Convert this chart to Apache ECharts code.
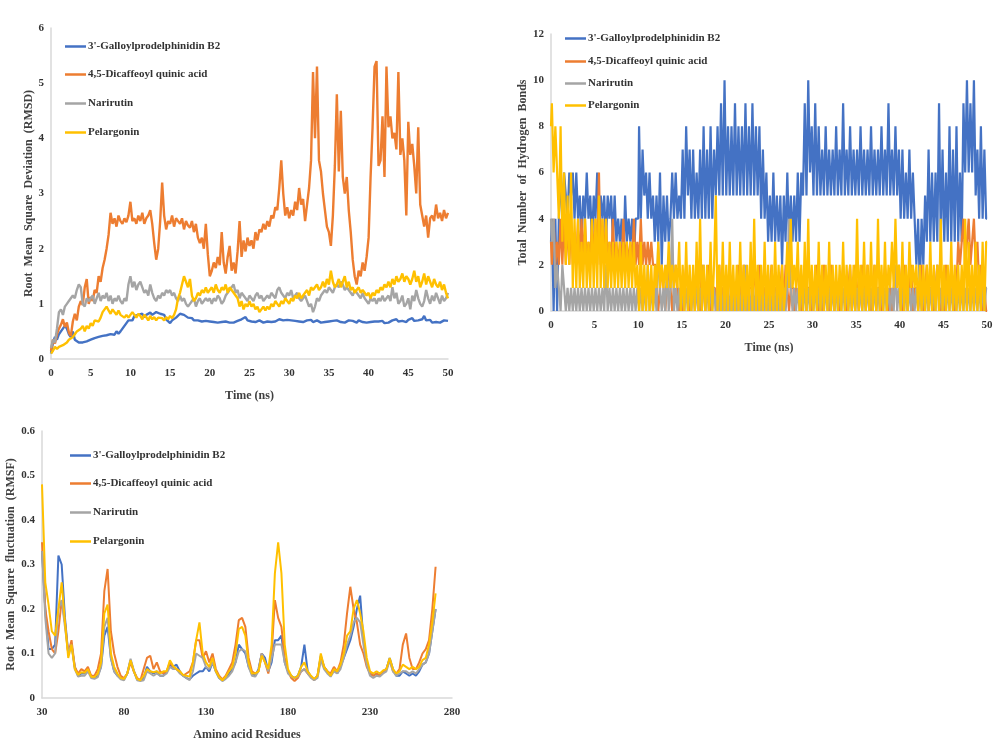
<!DOCTYPE html>
<html><head><meta charset="utf-8">
<script src="https://cdn.jsdelivr.net/npm/echarts@6/dist/echarts.min.js"></script>
<style>html,body{margin:0;padding:0;background:#fff}#c{width:1000px;height:750px}</style>
</head><body><div id="c"></div>
<script>
const seriesNames = ["3'-Galloylprodelphinidin B2", "4,5-Dicaffeoyl quinic acid", "Narirutin", "Pelargonin"];
const colors = ['#4472C4', '#ED7D31', '#A5A5A5', '#FFC000'];

// ---- RMSD (ns, step 0.25) ----
const rmsdStep = 0.25;
const rmsdGalloyl = [0.1,
0.3,0.4,0.35,0.45, 0.5,0.55,0.6,0.55, 0.45,0.4,0.5,0.35, 0.32,0.3,0.28,0.3, 0.27,0.32,0.3,0.35,
0.33,0.38,0.36,0.4, 0.38,0.42,0.45,0.43, 0.4,0.45,0.48,0.44, 0.5,0.46,0.5,0.55, 0.6,0.65,0.7,0.72,
0.7,0.78,0.75,0.8, 0.77,0.82,0.76,0.8, 0.78,0.84,0.8,0.83, 0.85,0.86,0.82,0.85, 0.8,0.72,0.7,0.65,
0.7,0.72,0.75,0.78, 0.82,0.85,0.8,0.78, 0.75,0.72,0.74,0.7,
0.69,0.7,0.67,0.68, 0.66,0.69,0.67,0.68, 0.66,0.67,0.69,0.66, 0.68,0.67,0.65,0.68, 0.67,0.66,0.68,0.66,
0.67,0.69,0.68,0.72, 0.7,0.76,0.7,0.69, 0.68,0.7,0.67,0.69, 0.7,0.68,0.66,0.69, 0.68,0.7,0.67,0.69,
0.68,0.7,0.72,0.69, 0.7,0.68,0.71,0.69, 0.7,0.68,0.69,0.71, 0.68,0.7,0.67,0.69, 0.7,0.68,0.71,0.67,
0.69,0.7,0.68,0.66, 0.69,0.67,0.7,0.68, 0.66,0.69,0.67,0.7, 0.68,0.67,0.69,0.66, 0.68,0.7,0.67,0.69,
0.68,0.66,0.7,0.68, 0.67,0.69,0.66,0.68, 0.67,0.69,0.68,0.66, 0.68,0.67,0.69,0.65, 0.62,0.66,0.68,0.7,
0.67,0.72,0.68,0.66, 0.69,0.7,0.67,0.71, 0.68,0.74,0.69,0.67, 0.7,0.68,0.72,0.78, 0.7,0.68,0.71,0.66,
0.69,0.67,0.7,0.66, 0.68,0.7,0.67,0.69];
const rmsdDicaffeoyl = [0.15,
0.35,0.28,0.45,0.55, 0.62,0.72,0.58,0.66, 0.48,0.42,0.68,0.82, 0.7,0.95,1.05,0.98, 1.3,1.45,1.0,1.12,
1.05,1.25,1.2,1.5, 1.4,1.65,1.8,2.0, 2.25,2.65,2.45,2.55, 2.4,2.6,2.5,2.45, 2.55,2.48,2.6,2.85,
2.5,2.55,2.45,2.6, 2.5,2.65,2.45,2.55, 2.6,2.7,2.45,2.1, 1.8,2.0,2.5,3.2, 2.6,2.35,2.5,2.45,
2.6,2.4,2.55,2.5, 2.45,2.55,2.35,2.5, 2.42,2.38,2.5,2.3, 2.45,2.2,2.1,2.2, 2.0,2.45,1.9,1.5,
1.6,1.75,1.65,1.85, 1.7,2.3,1.75,1.55, 1.85,2.05,1.6,1.75, 1.55,1.95,2.5,1.85, 2.15,1.95,2.2,2.05,
2.15,2.0,2.3,2.15, 2.35,2.3,2.45,2.35, 2.5,2.4,2.6,2.55, 2.75,2.7,3.1,3.6, 3.0,2.6,2.75,2.55,
2.7,2.6,2.85,2.7, 3.1,2.8,2.9,2.5, 2.8,3.1,3.6,5.2, 4.0,5.3,3.6,3.4, 3.0,2.7,2.4,2.3,
2.05,2.6,3.5,4.8, 3.4,4.5,3.3,3.0, 3.3,2.7,2.3,1.8, 1.5,1.35,1.6,1.5, 1.75,1.6,1.85,2.2,
3.3,4.2,5.3,5.4, 3.5,3.6,4.4,3.3, 5.3,4.2,4.4,4.0, 4.1,3.8,5.2,3.7, 4.0,3.6,2.6,4.3,
3.7,3.9,3.5,3.0, 4.2,2.8,2.6,2.4, 2.6,2.2,2.55,2.6, 2.5,2.8,2.55,2.65, 2.5,2.7,2.55,2.65];
const rmsdNarirutin = [0.2,
0.35,0.3,0.55,0.85, 0.9,0.8,0.95,1.0, 1.05,1.1,1.15,1.1, 1.25,1.35,1.3,1.0, 0.95,1.1,1.05,1.1,
1.15,1.0,1.1,1.2, 1.05,1.15,1.1,1.2, 1.05,1.15,1.0,1.1, 1.05,1.15,1.05,1.0, 1.1,1.05,1.35,1.5,
1.3,1.4,1.25,1.35, 1.4,1.3,1.2,1.25, 1.15,1.35,1.2,1.1, 1.05,1.15,1.1,1.2, 1.15,1.25,1.2,1.25,
1.15,1.2,1.1,1.05, 1.15,1.05,1.1,1.0, 0.95,1.0,1.05,1.1, 0.95,1.05,1.1,1.0, 1.05,1.1,1.05,1.1,
1.0,1.1,1.05,1.15, 1.1,1.0,1.05,1.15, 1.2,1.25,1.3,1.35, 1.2,1.25,1.1,1.2, 1.15,1.1,1.05,1.15,
1.1,1.05,1.15,1.2, 1.1,1.15,1.05,1.1, 1.15,1.1,1.2,1.15, 1.1,1.25,1.3,1.2, 1.15,1.1,1.2,1.15,
1.25,1.1,1.15,1.2, 1.1,1.05,1.1,1.15, 1.05,0.95,1.0,0.85, 0.95,1.1,1.05,1.15, 1.2,1.25,1.2,1.3,
1.25,1.2,1.3,1.35, 1.3,1.4,1.35,1.25, 1.3,1.25,1.2,1.15, 1.25,1.2,1.15,1.1, 1.2,1.1,1.05,1.0,
1.1,1.05,1.1,1.0, 1.1,1.05,1.15,1.05, 1.1,1.15,1.05,1.3, 1.1,1.2,1.0,1.05, 1.15,0.95,1.0,1.1,
0.9,1.15,1.05,1.25, 1.1,1.0,0.95,1.05, 1.25,1.1,1.0,1.15, 1.05,1.2,1.1,1.0, 1.15,1.05,1.1,1.2];
const rmsdPelargonin = [0.1,
0.15,0.22,0.18,0.22, 0.2,0.25,0.28,0.3, 0.35,0.32,0.4,0.45, 0.5,0.48,0.55,0.6, 0.5,0.6,0.55,0.65,
0.6,0.7,0.72,0.68, 0.75,0.85,0.9,0.95, 0.88,0.82,0.9,0.85, 0.8,0.88,0.8,0.78, 0.75,0.8,0.75,0.78,
0.85,0.8,0.75,0.82, 0.78,0.72,0.8,0.76, 0.7,0.78,0.72,0.76, 0.7,0.75,0.72,0.74, 0.7,0.76,0.72,0.78,
0.74,0.8,0.9,1.1, 1.2,1.35,1.5,1.4, 1.3,1.45,1.15,1.05, 1.1,1.2,1.15,1.25, 1.2,1.3,1.2,1.25,
1.3,1.2,1.35,1.25, 1.2,1.3,1.25,1.35, 1.2,1.3,1.25,1.2, 1.15,1.1,0.95,1.05, 0.9,1.0,0.95,1.05,
0.95,1.0,0.9,0.95, 0.85,0.9,0.95,0.88, 0.95,0.9,1.0,0.95, 1.05,1.0,0.95,1.05, 1.0,1.1,1.05,1.0,
1.1,1.05,1.15,1.1, 1.2,1.1,1.15,1.2, 1.25,1.15,1.3,1.25, 1.3,1.35,1.25,1.3, 1.4,1.3,1.45,1.35,
1.6,1.4,1.3,1.35, 1.45,1.3,1.4,1.5, 1.3,1.4,1.25,1.3, 1.2,1.25,1.3,1.2, 1.25,1.2,1.15,1.2,
1.1,1.2,1.15,1.25, 1.2,1.3,1.25,1.35, 1.3,1.4,1.3,1.45, 1.35,1.5,1.4,1.45, 1.55,1.4,1.5,1.45,
1.35,1.45,1.6,1.4, 1.5,1.3,1.4,1.55, 1.35,1.5,1.4,1.3, 1.45,1.35,1.3,1.4, 1.25,1.35,1.2,1.1];

// ---- Hydrogen bonds (ns, step 0.2) ----
const hbStep = 0.2;
const hbGalloyl = [
3,4,0,4,0, 4,6,4,6,5, 4,6,5,6,4, 6,4,5,3,5, 4,6,4,5,3, 5,4,6,3,5, 4,5,3,5,4, 5,3,5,3,4, 3,4,2,5,3, 4,3,4,2,4,
4,8,4,7,5, 6,4,6,4,5, 3,5,3,6,2, 5,3,5,3,4, 6,4,6,4,5, 4,7,4,8,5, 7,4,7,4,6, 4,7,4,8,4, 7,4,8,4,7, 5,8,5,9,5,
10,5,8,5,8, 5,9,5,8,5, 8,5,9,5,8, 5,9,5,8,5, 8,4,7,4,6, 3,5,3,6,3, 5,3,5,2,5, 3,6,3,5,3, 5,3,6,3,6, 5,9,5,10,6,
8,5,9,5,8, 5,7,5,8,5, 7,5,7,5,8, 5,7,5,9,5, 7,5,8,5,7, 5,7,5,8,5, 7,5,7,5,8, 5,7,5,7,5, 8,5,7,5,9, 5,7,5,8,5,
7,4,7,4,6, 4,7,4,6,4, 2,4,1,4,2, 5,3,7,3,6, 3,6,3,9,3, 7,3,6,3,8, 3,7,3,8,3, 6,3,9,6,10, 6,9,6,10,5, 7,4,8,4,7,
4];
const hbDicaffeoyl = [
3,2,4,2,3, 2,4,2,4,2, 4,2,4,2,3, 2,4,2,4,2, 4,2,3,2,4, 2,4,2,6,2, 4,2,4,2,3, 2,4,2,3,2, 3,2,4,2,3, 2,3,2,4,2,
3,2,4,2,3, 2,3,2,3,2, 2,1,0,1,2, 1,0,1,2,1, 0,1,2,1,0, 1,0,1,2,1, 0,1,1,0,2, 1,0,2,1,0, 1,2,0,1,1, 0,1,2,0,1,
1,0,1,2,0, 1,1,0,2,1, 0,2,1,0,1, 1,0,2,1,0, 2,1,0,1,1, 0,1,2,0,1, 1,0,1,2,0, 2,1,0,1,1, 0,1,2,1,0, 1,2,0,1,1,
0,1,1,2,0, 1,0,2,1,1, 0,2,1,0,1, 1,0,1,2,1, 0,1,2,0,1, 2,1,0,1,2, 1,0,2,1,0, 1,2,0,1,1, 0,1,2,1,0, 1,0,1,2,1,
2,1,0,2,1, 0,1,2,0,1, 1,0,1,2,0, 1,2,0,1,1, 0,1,2,1,0, 1,0,2,1,1, 2,1,0,1,3, 2,3,4,2,3, 4,2,3,4,2, 3,1,2,0,1,
0];
const hbNarirutin = [
4,3,4,1,2, 1,0,2,1,0, 1,0,1,0,1, 0,1,0,1,0, 1,0,1,0,1, 0,1,0,1,0, 1,0,2,0,1, 0,1,0,1,0, 1,0,1,0,1, 0,1,0,1,0,
1,0,1,0,1, 0,2,0,1,0, 1,0,3,1,0, 1,0,2,0,1, 4,0,1,0,1, 0,1,0,1,0, 1,0,1,0,1, 0,1,0,2,0, 1,0,1,0,1, 0,1,0,1,0,
1,0,1,0,1, 0,1,0,1,0, 1,0,2,0,1, 0,1,0,1,0, 1,0,1,0,1, 0,1,0,1,0, 1,0,1,0,1, 0,1,4,1,0, 1,0,1,0,1, 0,1,0,1,0,
1,0,1,0,1, 0,1,0,1,0, 1,0,1,0,1, 0,1,0,1,0, 1,0,1,0,1, 0,1,0,1,0, 1,0,1,0,1, 0,1,0,1,0, 1,0,1,0,1, 0,1,0,2,0,
1,0,1,0,1, 0,1,0,1,0, 1,0,1,0,1, 0,1,0,1,0, 1,0,2,0,1, 0,1,0,1,0, 1,0,1,0,1, 0,1,0,1,0, 1,0,1,0,1, 0,1,0,1,0,
1];
const hbPelargonin = [
8,9,6,8,6, 4,8,3,6,2, 5,2,6,1,4, 1,4,1,3,1, 4,1,3,1,4, 1,4,1,5,1, 4,1,4,1,3, 1,3,1,3,1, 3,1,3,1,3, 1,3,1,3,1,
2,0,3,0,2, 0,2,0,2,0, 2,1,3,1,2, 1,2,1,3,1, 2,1,2,1,3, 0,2,0,3,0, 2,0,2,0,3, 0,4,0,2,0, 2,0,3,0,2, 5,0,2,0,3,
0,2,0,3,0, 2,0,2,0,3, 0,2,0,2,0, 3,0,4,0,2, 0,2,0,3,0, 2,0,2,0,3, 0,2,0,2,0, 1,3,1,4,1, 2,1,3,0,2, 0,3,0,4,0,
2,0,2,0,3, 0,2,0,2,0, 3,0,2,0,2, 0,2,0,3,0, 2,0,2,0,2, 0,4,0,2,0, 3,0,2,0,3, 0,2,0,4,0, 2,0,3,0,2, 1,3,1,4,1,
2,0,3,0,2, 0,3,1,2,1, 2,0,2,0,2, 0,2,0,3,0, 2,0,2,0,4, 0,2,0,2,0, 3,0,2,0,2, 0,2,0,4,0, 3,0,2,0,3, 0,2,0,3,0,
3];

// ---- RMSF (residues 30..270, step 2) ----
const residueStart = 30, residueStep = 2;
const rmsfGalloyl = [0.33,0.2,0.11,0.11,0.12,0.32,0.3,0.18,0.1,0.12,
0.07,0.05,0.055,0.055,0.065,0.048,0.045,0.05,0.07,0.14,
0.16,0.09,0.06,0.05,0.045,0.042,0.055,0.085,0.06,0.042,
0.04,0.045,0.07,0.06,0.055,0.06,0.05,0.05,0.06,0.075,
0.07,0.075,0.06,0.05,0.045,0.042,0.05,0.055,0.06,0.06,
0.07,0.06,0.08,0.06,0.045,0.04,0.045,0.055,0.065,0.08,
0.12,0.11,0.1,0.07,0.055,0.05,0.065,0.1,0.09,0.06,
0.08,0.13,0.13,0.14,0.08,0.06,0.05,0.045,0.05,0.07,
0.12,0.06,0.048,0.042,0.05,0.095,0.07,0.06,0.05,0.065,
0.055,0.07,0.09,0.11,0.13,0.16,0.2,0.23,0.13,0.08,
0.055,0.05,0.055,0.05,0.06,0.065,0.09,0.065,0.05,0.05,
0.06,0.055,0.05,0.055,0.05,0.06,0.075,0.08,0.1,0.15,0.2];
const rmsfDicaffeoyl = [0.35,0.2,0.15,0.11,0.1,0.15,0.22,0.17,0.1,0.13,
0.07,0.055,0.065,0.06,0.07,0.05,0.05,0.065,0.1,0.24,
0.29,0.15,0.1,0.07,0.05,0.045,0.055,0.08,0.06,0.045,
0.04,0.065,0.09,0.095,0.065,0.08,0.06,0.055,0.06,0.08,
0.07,0.065,0.06,0.05,0.055,0.06,0.08,0.13,0.13,0.09,
0.105,0.08,0.1,0.065,0.05,0.042,0.05,0.065,0.08,0.12,
0.175,0.18,0.16,0.09,0.06,0.055,0.06,0.1,0.08,0.055,
0.1,0.22,0.18,0.16,0.09,0.06,0.045,0.038,0.045,0.06,
0.065,0.055,0.047,0.04,0.05,0.09,0.07,0.06,0.055,0.07,
0.06,0.08,0.12,0.19,0.25,0.2,0.17,0.12,0.1,0.07,
0.055,0.05,0.055,0.05,0.06,0.065,0.085,0.06,0.055,0.065,
0.12,0.145,0.09,0.065,0.065,0.08,0.1,0.11,0.13,0.2,0.295];
const rmsfNarirutin = [0.33,0.18,0.1,0.09,0.1,0.2,0.22,0.16,0.1,0.12,
0.065,0.048,0.05,0.05,0.06,0.045,0.043,0.047,0.07,0.16,
0.18,0.09,0.06,0.05,0.042,0.04,0.055,0.088,0.062,0.04,
0.038,0.04,0.06,0.055,0.05,0.055,0.05,0.05,0.055,0.07,
0.065,0.065,0.055,0.05,0.045,0.04,0.06,0.1,0.095,0.09,
0.07,0.065,0.08,0.06,0.045,0.038,0.043,0.05,0.06,0.08,
0.105,0.11,0.105,0.07,0.05,0.048,0.06,0.1,0.08,0.06,
0.09,0.12,0.12,0.12,0.08,0.055,0.048,0.045,0.048,0.06,
0.065,0.055,0.045,0.04,0.045,0.085,0.065,0.055,0.048,0.06,
0.055,0.065,0.09,0.12,0.14,0.17,0.18,0.17,0.12,0.075,
0.05,0.045,0.05,0.048,0.055,0.06,0.085,0.06,0.05,0.055,
0.06,0.06,0.055,0.06,0.055,0.065,0.075,0.08,0.1,0.15,0.2];
const rmsfPelargonin = [0.48,0.26,0.21,0.15,0.14,0.2,0.26,0.17,0.09,0.12,
0.065,0.052,0.058,0.057,0.065,0.048,0.047,0.055,0.08,0.19,
0.21,0.1,0.07,0.055,0.045,0.043,0.055,0.085,0.06,0.043,
0.04,0.05,0.065,0.06,0.058,0.06,0.055,0.06,0.06,0.085,
0.072,0.065,0.06,0.052,0.05,0.048,0.08,0.13,0.17,0.1,
0.08,0.07,0.09,0.06,0.047,0.04,0.048,0.06,0.07,0.1,
0.155,0.16,0.14,0.08,0.055,0.055,0.06,0.095,0.08,0.065,
0.12,0.28,0.35,0.28,0.12,0.065,0.05,0.045,0.05,0.07,
0.08,0.06,0.05,0.043,0.05,0.1,0.07,0.06,0.05,0.065,
0.06,0.075,0.1,0.14,0.15,0.2,0.22,0.19,0.15,0.09,
0.06,0.055,0.06,0.055,0.062,0.065,0.09,0.065,0.055,0.06,
0.075,0.07,0.065,0.07,0.065,0.07,0.085,0.09,0.12,0.17,0.235];

const FONT = 'Liberation Serif';
const txt = { fontFamily: FONT, fontWeight: 'bold', color: '#333', fontSize: 11 };

function pairs(arr, start, step) { return arr.map((v, i) => [start + i * step, v]); }

function xAxisCfg(g, min, max, interval, name) {
  return { type: 'value', gridIndex: g, min, max, interval, name, nameLocation: 'middle', nameGap: 31,
    nameTextStyle: Object.assign({}, txt, { fontSize: 12, color: '#404040' }),
    axisLine: { show: true, lineStyle: { color: '#D9D9D9', width: 1.5 } },
    axisTick: { show: false }, splitLine: { show: false },
    axisLabel: Object.assign({}, txt, { margin: 9 }) };
}
function yAxisCfg(g, min, max, interval, name, gap) {
  return { type: 'value', gridIndex: g, min, max, interval, name, nameLocation: 'middle', nameGap: gap,
    nameTextStyle: Object.assign({}, txt, { fontSize: 12, color: '#404040' }),
    axisLine: { show: true, lineStyle: { color: '#D9D9D9', width: 1.5 } },
    axisTick: { show: false }, splitLine: { show: false },
    axisLabel: Object.assign({}, txt, { margin: 7 }) };
}

const series = [];
const rmsdSets = [rmsdGalloyl, rmsdDicaffeoyl, rmsdNarirutin, rmsdPelargonin];
const hbSets = [hbGalloyl, hbDicaffeoyl, hbNarirutin, hbPelargonin];
const rmsfSets = [rmsfGalloyl, rmsfDicaffeoyl, rmsfNarirutin, rmsfPelargonin];
rmsdSets.forEach((d, k) => series.push({ type: 'line', name: seriesNames[k], xAxisIndex: 0, yAxisIndex: 0,
  data: pairs(d, 0, rmsdStep), showSymbol: false, lineStyle: { color: colors[k], width: 2.4 }, itemStyle: { color: colors[k] }, z: 2 + k }));
hbSets.forEach((d, k) => series.push({ type: 'line', name: seriesNames[k], xAxisIndex: 1, yAxisIndex: 1, step: 'middle',
  data: pairs(d, 0, hbStep), showSymbol: false, lineStyle: { color: colors[k], width: 2.2 }, itemStyle: { color: colors[k] }, z: 2 + k }));
rmsfSets.forEach((d, k) => series.push({ type: 'line', name: seriesNames[k], xAxisIndex: 2, yAxisIndex: 2,
  data: pairs(d, residueStart, residueStep), showSymbol: false, lineStyle: { color: colors[k], width: 2 }, itemStyle: { color: colors[k] }, z: 2 + k }));

const legends = [];
function addLegend(left, centers) {
  centers.forEach((cy, k) => legends.push({ data: [seriesNames[k]], left, top: cy - 7, icon: 'rect', itemWidth: 21, itemHeight: 2.5,
    itemGap: 2, selectedMode: false, textStyle: Object.assign({}, txt, { fontSize: 11, color: '#333', padding: [0, 0, 0, -3] }) }));
}
addLegend(60, [43, 71, 100, 129]);
addLegend(560, [35, 58, 80, 102]);
addLegend(65, [452, 480, 509, 538]);

const chart = echarts.init(document.getElementById('c'), null, { renderer: 'canvas' });
chart.setOption({
  animation: false,
  backgroundColor: '#fff',
  grid: [
    { left: 51, top: 28, width: 397, height: 331 },
    { left: 551, top: 34, width: 436, height: 277 },
    { left: 42, top: 431, width: 410, height: 267 }
  ],
  xAxis: [xAxisCfg(0, 0, 50, 5, 'Time (ns)'), xAxisCfg(1, 0, 50, 5, 'Time (ns)'), xAxisCfg(2, 30, 280, 50, 'Amino acid Residues')],
  yAxis: [yAxisCfg(0, 0, 6, 1, 'Root  Mean  Square  Deviation  (RMSD)', 15),
          yAxisCfg(1, 0, 12, 2, 'Total  Number  of  Hydrogen  Bonds', 17),
          yAxisCfg(2, 0, 0.6, 0.1, 'Root  Mean  Square  fluctuation  (RMSF)', 17)],
  legend: legends,
  series
});
</script></body></html>
